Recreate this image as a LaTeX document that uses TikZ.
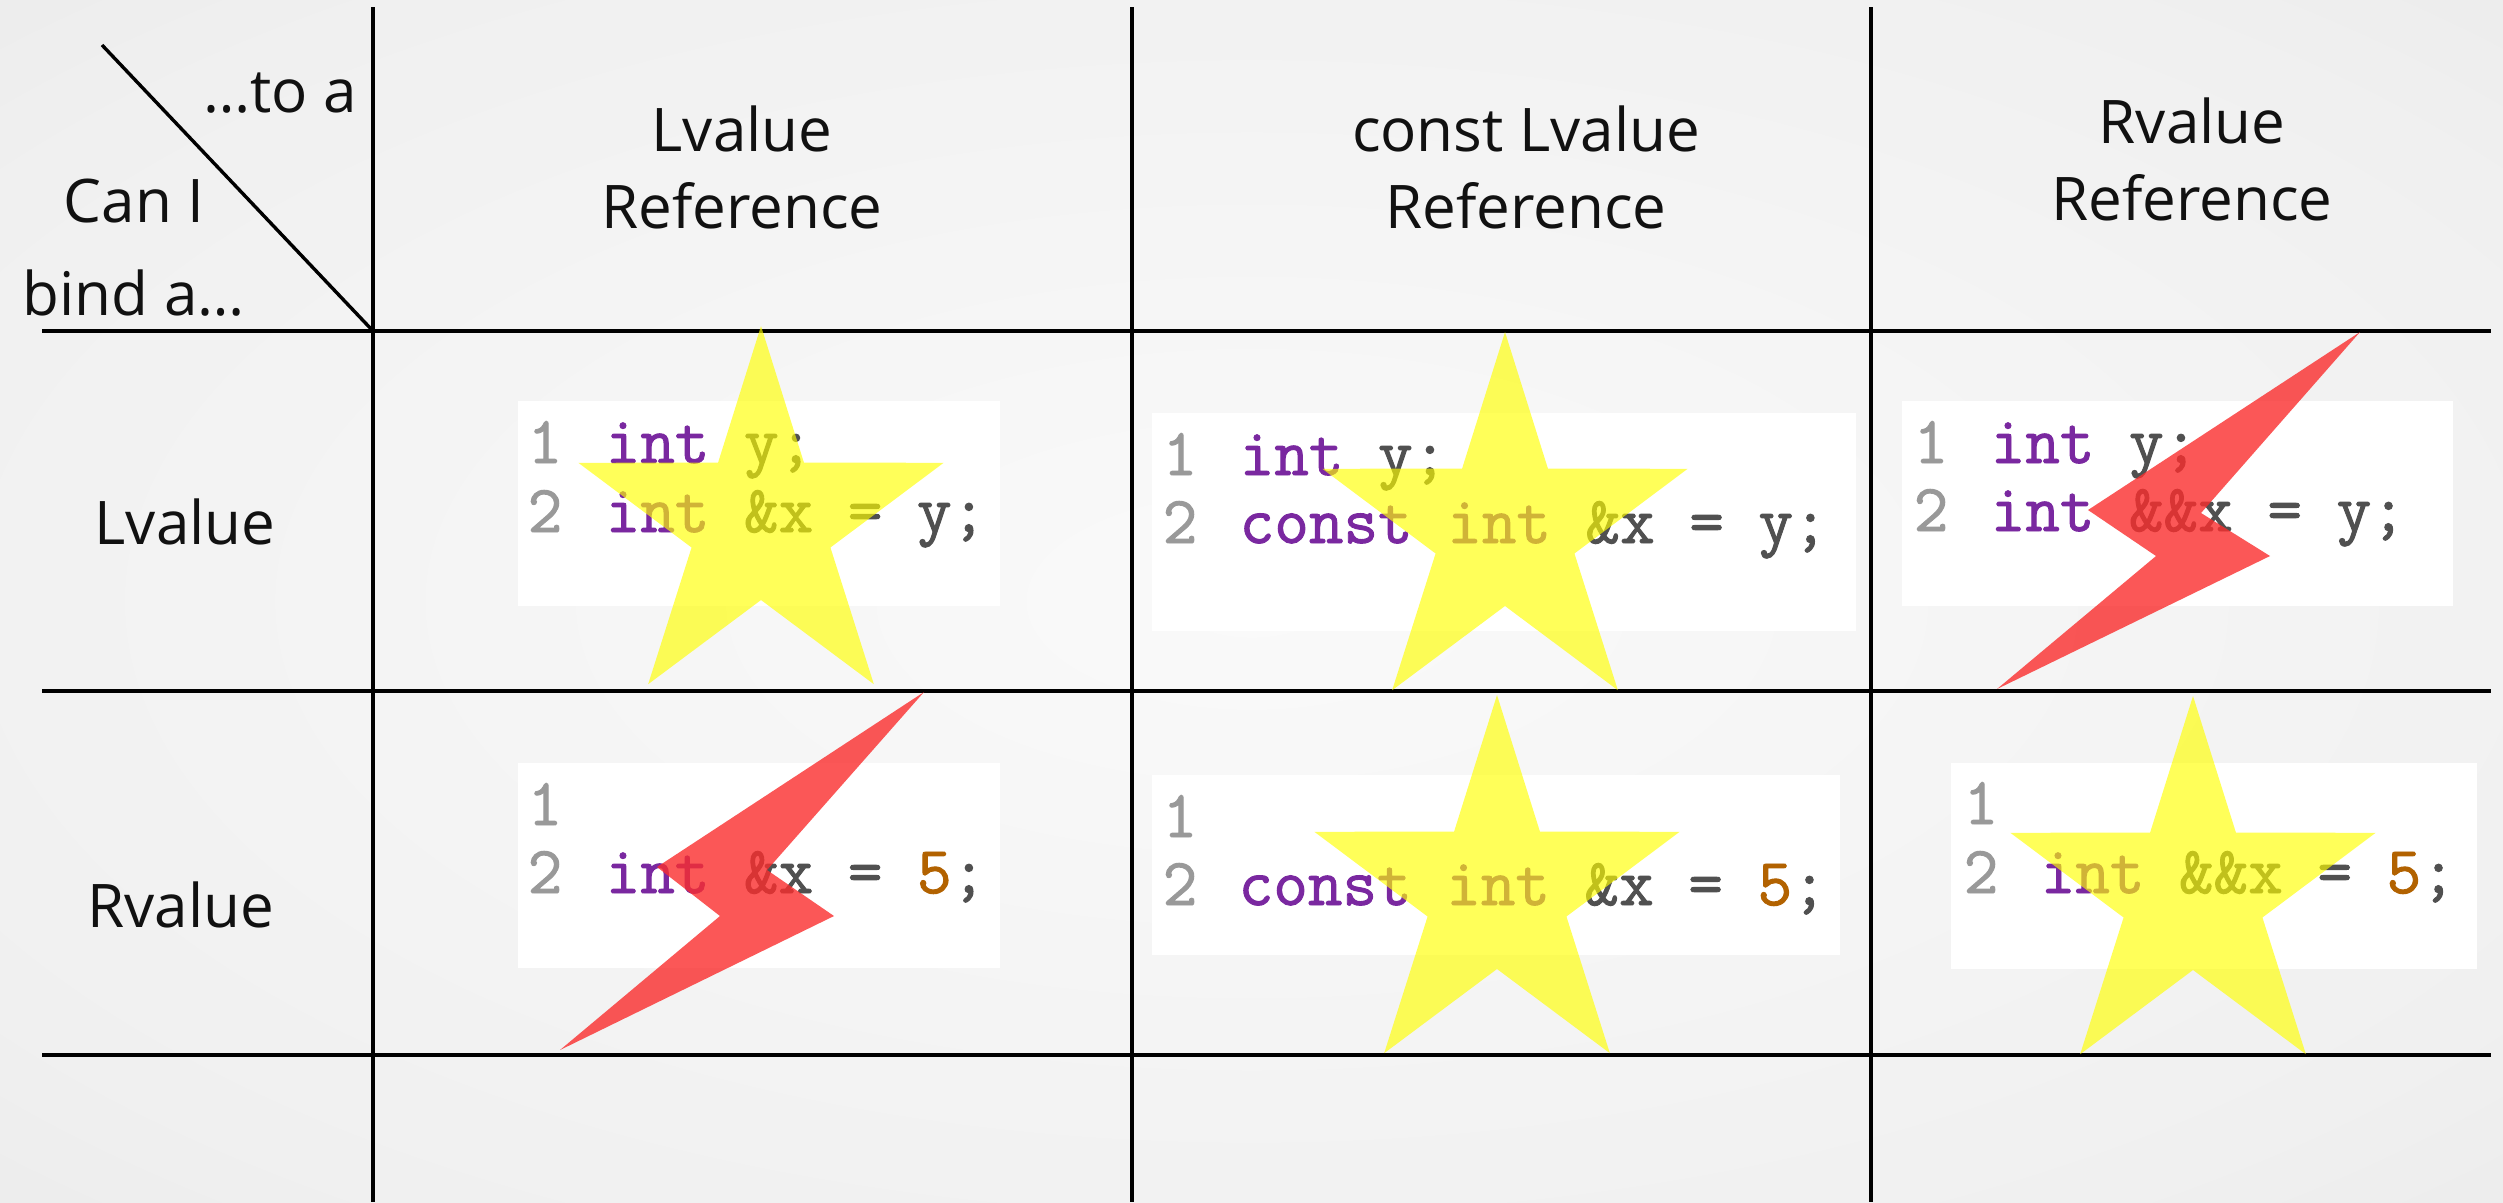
\documentclass[tikz,border=0pt]{standalone}
\usepackage{fontspec}
\setmainfont{Open Sans}
\newfontfamily\codefont[FakeBold=1.4]{Latin Modern Mono}
\usetikzlibrary{calc}
\definecolor{kw}{RGB}{122,40,160}
\definecolor{idc}{RGB}{80,80,80}
\definecolor{numc}{RGB}{178,98,0}
\definecolor{lnc}{RGB}{153,153,153}
\definecolor{bgin}{RGB}{250,250,250}
\definecolor{bgmid}{RGB}{240,240,240}
\definecolor{bgout}{RGB}{214,214,214}
\definecolor{starc}{RGB}{255,255,0}
\definecolor{boltc}{RGB}{250,45,45}
\definecolor{inkc}{RGB}{17,17,17}
\pgfdeclareradialshading{bgshade}{\pgfpoint{0bp}{0bp}}{color(0bp)=(bgin); color(30bp)=(bgmid); color(71bp)=(bgout)}
\tikzset{
  gridline/.style={line width=0.034cm, black},
  label/.style={font=\fontsize{17.1}{20}\selectfont, text=inkc, inner sep=0pt, anchor=base},
  codebox/.style={fill=white, draw=none},
  lnum/.style={font=\fontsize{19.1}{22}\codefont, text=lnc, inner sep=0pt, anchor=base west},
  codeline/.style={font=\fontsize{19.1}{22}\codefont, text=idc, inner sep=0pt, anchor=base west},
  starfill/.style={fill=starc, fill opacity=0.65},
  boltfill/.style={fill=boltc, fill opacity=0.8},
  pics/bigstar/.style={code={
    \fill[starfill] (-90:192 and 198) -- (-54:73 and 76) -- (-18:192 and 198) -- (18:73 and 76)
      -- (54:192 and 198) -- (90:73 and 76) -- (126:192 and 198) -- (162:73 and 76)
      -- (198:192 and 198) -- (234:73 and 76) -- cycle;
  }}
}
\newcommand{\kwd}[1]{\textcolor{kw}{#1}}
\newcommand{\nmb}[1]{\textcolor{numc}{#1}}
\begin{document}
\begin{tikzpicture}[x=0.01cm,y=-0.01cm]
\shade[shading=bgshade] (0,0) rectangle (2503,1202);
\useasboundingbox (0,0) rectangle (2503,1202);

% code boxes
\fill[codebox] (518,401) rectangle (1000,606);
\fill[codebox] (1152,413) rectangle (1856,631);
\fill[codebox] (1902,401) rectangle (2453,606);
\fill[codebox] (518,763) rectangle (1000,968);
\fill[codebox] (1152,775) rectangle (1840,955);
\fill[codebox] (1951,763) rectangle (2477,969);

% code text
\node[lnum] (n11a) at (527,463) {1};
\node[lnum] (n11b) at (527,532) {2};
\node[codeline] (c11a) at (605,463) {\kwd{int} y;};
\node[codeline] (c11b) at (605,532) {\kwd{int} \&x = y;};

\node[lnum] (n12a) at (1162,475) {1};
\node[lnum] (n12b) at (1162,543) {2};
\node[codeline] (c12a) at (1239,475) {\kwd{int} y;};
\node[codeline] (c12b) at (1239,543) {\kwd{const} \kwd{int} \&x = y;};

\node[lnum] (n13a) at (1913,463) {1};
\node[lnum] (n13b) at (1913,531) {2};
\node[codeline] (c13a) at (1990,463) {\kwd{int} y;};
\node[codeline] (c13b) at (1990,531) {\kwd{int} \&\&x = y;};

\node[lnum] (n21a) at (527,825) {1};
\node[lnum] (n21b) at (527,893) {2};
\node[codeline] (c21b) at (605,893) {\kwd{int} \&x = \nmb{5};};

\node[lnum] (n22a) at (1162,837) {1};
\node[lnum] (n22b) at (1162,905) {2};
\node[codeline] (c22b) at (1238,905) {\kwd{const} \kwd{int} \&x = \nmb{5};};

\node[lnum] (n23a) at (1963,824) {1};
\node[lnum] (n23b) at (1963,893) {2};
\node[codeline] (c23b) at (2040,893) {\kwd{int} \&\&x = \nmb{5};};

% grid
\coordinate (v1t) at (373,7);   \coordinate (v1b) at (373,1202);
\coordinate (v2t) at (1132,7);  \coordinate (v2b) at (1132,1202);
\coordinate (v3t) at (1871,7);  \coordinate (v3b) at (1871,1202);
\coordinate (h1l) at (42,331);  \coordinate (h1r) at (2491,331);
\coordinate (h2l) at (42,691);  \coordinate (h2r) at (2491,691);
\coordinate (h3l) at (42,1055); \coordinate (h3r) at (2491,1055);
\coordinate (dgs) at (102,45);  \coordinate (dge) at (373,331);
\draw[gridline] (v1t) -- (v1b);
\draw[gridline] (v2t) -- (v2b);
\draw[gridline] (v3t) -- (v3b);
\draw[gridline] (h1l) -- (h1r);
\draw[gridline] (h2l) -- (h2r);
\draw[gridline] (h3l) -- (h3r);
\draw[gridline] (dgs) -- (dge);

% corner labels
\node[label, anchor=base east] (toa) at (358,112) {…to a};
\node[label, anchor=base west] (cani) at (63,222) {Can I};
\node[label, anchor=base west] (binda) at (22,315) {bind a…};

% column headers
\node[label] (h1a) at (742,151) {Lvalue};
\node[label] (h1b) at (742,228) {Reference};
\node[label] (h2a) at (1526,151) {const Lvalue};
\node[label] (h2b) at (1526,228) {Reference};
\node[label] (h3a) at (2192,143) {Rvalue};
\node[label] (h3b) at (2192,220) {Reference};

% row headers
\node[label] (r1) at (185,544) {Lvalue};
\node[label] (r2) at (181,927) {Rvalue};

% stars
\pic at (761,524) {bigstar};
\pic at (1505,530) {bigstar};
\pic at (1497,893) {bigstar};
\pic at (2193,894) {bigstar};

% lightning bolts
\fill[boltfill] (2360,332) -- (2201,513) -- (2270,556) -- (1997,689) -- (2156,556) -- (2088,510) -- cycle;
\fill[boltfill] (924,692) -- (767,870) -- (834,916) -- (560,1050) -- (720,916) -- (657,867) -- cycle;
\end{tikzpicture}
\end{document}
